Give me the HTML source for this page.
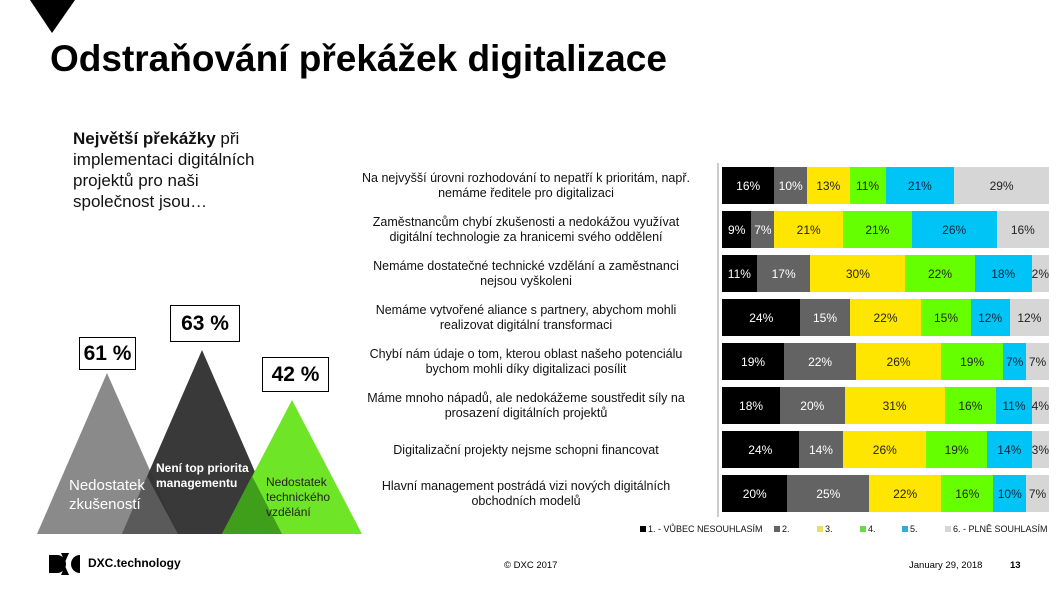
<!DOCTYPE html>
<html><head><meta charset="utf-8"><style>
body{margin:0;width:1064px;height:597px;background:#fff;position:relative;overflow:hidden;font-family:"Liberation Sans",Arial,sans-serif}
.a{position:absolute}
.lbl{position:absolute;left:340px;width:372px;text-align:center;font-size:12.5px;line-height:15px;color:#111}
.bar{position:absolute;left:722px;width:327px;height:37px;display:flex}
.bar div{display:flex;align-items:center;justify-content:center;font-size:12px;white-space:nowrap;overflow:visible}
.c1{background:#000;color:#fff}.c2{background:#636363;color:#fff}.c3{background:#ffe600;color:#222}.c4{background:#66ff00;color:#222}.c5{background:#00c4f5;color:#123}.c6{background:#d6d6d6;color:#222}
.box{position:absolute;border:1.5px solid #000;background:#fff;font-weight:bold;font-size:21px;display:flex;align-items:center;justify-content:center}
.leg{position:absolute;top:524px;font-size:9px;color:#111}
.leg i{display:inline-block;width:6px;height:6px;margin-right:2px}
</style></head><body>
<svg class="a" style="left:0;top:0" width="1064" height="597">
<polygon points="30,0 75,0 52,33" fill="#000"/>
<polygon points="107,373 37,534 178,534" fill="#8a8a8a"/>
<polygon points="202,350 122,534 282,534" fill="#333" opacity="0.97"/>
<polygon points="122,534 147,476 178,534" fill="#5a5a5a"/>
<polygon points="292,400 222,534 362,534" fill="#6fe528"/>
<polygon points="222,534 252,476 282,534" fill="#3f9e1a"/>
<line x1="718" y1="163" x2="718" y2="517" stroke="#999" stroke-width="1"/>
</svg>
<div class="a" style="left:50px;top:38px;font-size:37px;font-weight:bold;color:#000">Odstraňování překážek digitalizace</div>
<div class="a" style="left:73px;top:128px;font-size:17px;line-height:21px;color:#111"><b>Největší překážky</b> při<br>implementaci digitálních<br>projektů pro naši<br>společnost jsou…</div>
<div class="box" style="left:79px;top:337px;width:55px;height:31px">61 %</div>
<div class="box" style="left:170px;top:305px;width:68px;height:35px">63 %</div>
<div class="box" style="left:262px;top:357px;width:65px;height:33px">42 %</div>
<div class="a" style="left:69px;top:476px;font-size:15px;line-height:19px;color:#fff">Nedostatek<br>zkušeností</div>
<div class="a" style="left:156px;top:461px;font-size:12px;line-height:15px;color:#fff;font-weight:bold">Není top priorita<br>managementu</div>
<div class="a" style="left:266px;top:475px;font-size:12px;line-height:15px;color:#222">Nedostatek<br>technického<br>vzdělání</div>

<div class="lbl" style="top:171px">Na nejvyšší úrovni rozhodování to nepatří k prioritám, např.<br>nemáme ředitele pro digitalizaci</div>
<div class="lbl" style="top:215px">Zaměstnancům chybí zkušenosti a nedokážou využívat<br>digitální technologie za hranicemi svého oddělení</div>
<div class="lbl" style="top:259px">Nemáme dostatečné technické vzdělání a zaměstnanci<br>nejsou vyškoleni</div>
<div class="lbl" style="top:303px">Nemáme vytvořené aliance s partnery, abychom mohli<br>realizovat digitální transformaci</div>
<div class="lbl" style="top:347px">Chybí nám údaje o tom, kterou oblast našeho potenciálu<br>bychom mohli díky digitalizaci posílit</div>
<div class="lbl" style="top:391px">Máme mnoho nápadů, ale nedokážeme soustředit síly na<br>prosazení digitálních projektů</div>
<div class="lbl" style="top:443px">Digitalizační projekty nejsme schopni financovat</div>
<div class="lbl" style="top:479px">Hlavní management postrádá vizi nových digitálních<br>obchodních modelů</div>

<div class="bar" style="top:167px"><div class="c1" style="flex:16">16%</div><div class="c2" style="flex:10">10%</div><div class="c3" style="flex:13">13%</div><div class="c4" style="flex:11">11%</div><div class="c5" style="flex:21">21%</div><div class="c6" style="flex:29">29%</div></div>
<div class="bar" style="top:211px"><div class="c1" style="flex:9">9%</div><div class="c2" style="flex:7">7%</div><div class="c3" style="flex:21">21%</div><div class="c4" style="flex:21">21%</div><div class="c5" style="flex:26">26%</div><div class="c6" style="flex:16">16%</div></div>
<div class="bar" style="top:255px"><div class="c1" style="flex:11">11%</div><div class="c2" style="flex:17">17%</div><div class="c3" style="flex:30">30%</div><div class="c4" style="flex:22">22%</div><div class="c5" style="flex:18">18%</div><div class="c6" style="flex:2">2%</div></div>
<div class="bar" style="top:299px"><div class="c1" style="flex:24">24%</div><div class="c2" style="flex:15">15%</div><div class="c3" style="flex:22">22%</div><div class="c4" style="flex:15">15%</div><div class="c5" style="flex:12">12%</div><div class="c6" style="flex:12">12%</div></div>
<div class="bar" style="top:343px"><div class="c1" style="flex:19">19%</div><div class="c2" style="flex:22">22%</div><div class="c3" style="flex:26">26%</div><div class="c4" style="flex:19">19%</div><div class="c5" style="flex:7">7%</div><div class="c6" style="flex:7">7%</div></div>
<div class="bar" style="top:387px"><div class="c1" style="flex:18">18%</div><div class="c2" style="flex:20">20%</div><div class="c3" style="flex:31">31%</div><div class="c4" style="flex:16">16%</div><div class="c5" style="flex:11">11%</div><div class="c6" style="flex:4">4%</div></div>
<div class="bar" style="top:431px"><div class="c1" style="flex:24">24%</div><div class="c2" style="flex:14">14%</div><div class="c3" style="flex:26">26%</div><div class="c4" style="flex:19">19%</div><div class="c5" style="flex:14">14%</div><div class="c6" style="flex:3">3%</div></div>
<div class="bar" style="top:475px"><div class="c1" style="flex:20">20%</div><div class="c2" style="flex:25">25%</div><div class="c3" style="flex:22">22%</div><div class="c4" style="flex:16">16%</div><div class="c5" style="flex:10">10%</div><div class="c6" style="flex:7">7%</div></div>

<div class="leg" style="left:640px"><i style="background:#000"></i>1. - VŮBEC NESOUHLASÍM</div>
<div class="leg" style="left:774px"><i style="background:#636363"></i>2.</div>
<div class="leg" style="left:817px"><i style="background:#e8e060"></i>3.</div>
<div class="leg" style="left:860px"><i style="background:#66dd44"></i>4.</div>
<div class="leg" style="left:902px"><i style="background:#33aadd"></i>5.</div>
<div class="leg" style="left:945px"><i style="background:#d6d6d6"></i>6. - PLNĚ SOUHLASÍM</div>

<svg class="a" style="left:49px;top:553px" width="32" height="22"><polygon points="0,2 7,2 7,20 0,20" fill="#000"/><path d="M3,2 H8 A9,9 0 0 1 8,20 H3Z" fill="#000"/><polygon points="12,0 20,0 16,9" fill="#000"/><polygon points="12,22 20,22 16,13" fill="#000"/><path d="M31,2 A9,9 0 0 0 31,20 Z" fill="#000"/></svg>
<div class="a" style="left:88px;top:556px;font-size:12px;font-weight:bold">DXC.technology</div>
<div class="a" style="left:504px;top:560px;font-size:9.5px">© DXC 2017</div>
<div class="a" style="left:909px;top:560px;font-size:9.5px">January 29, 2018</div>
<div class="a" style="left:1010px;top:560px;font-size:9.5px;font-weight:bold">13</div>
</body></html>
